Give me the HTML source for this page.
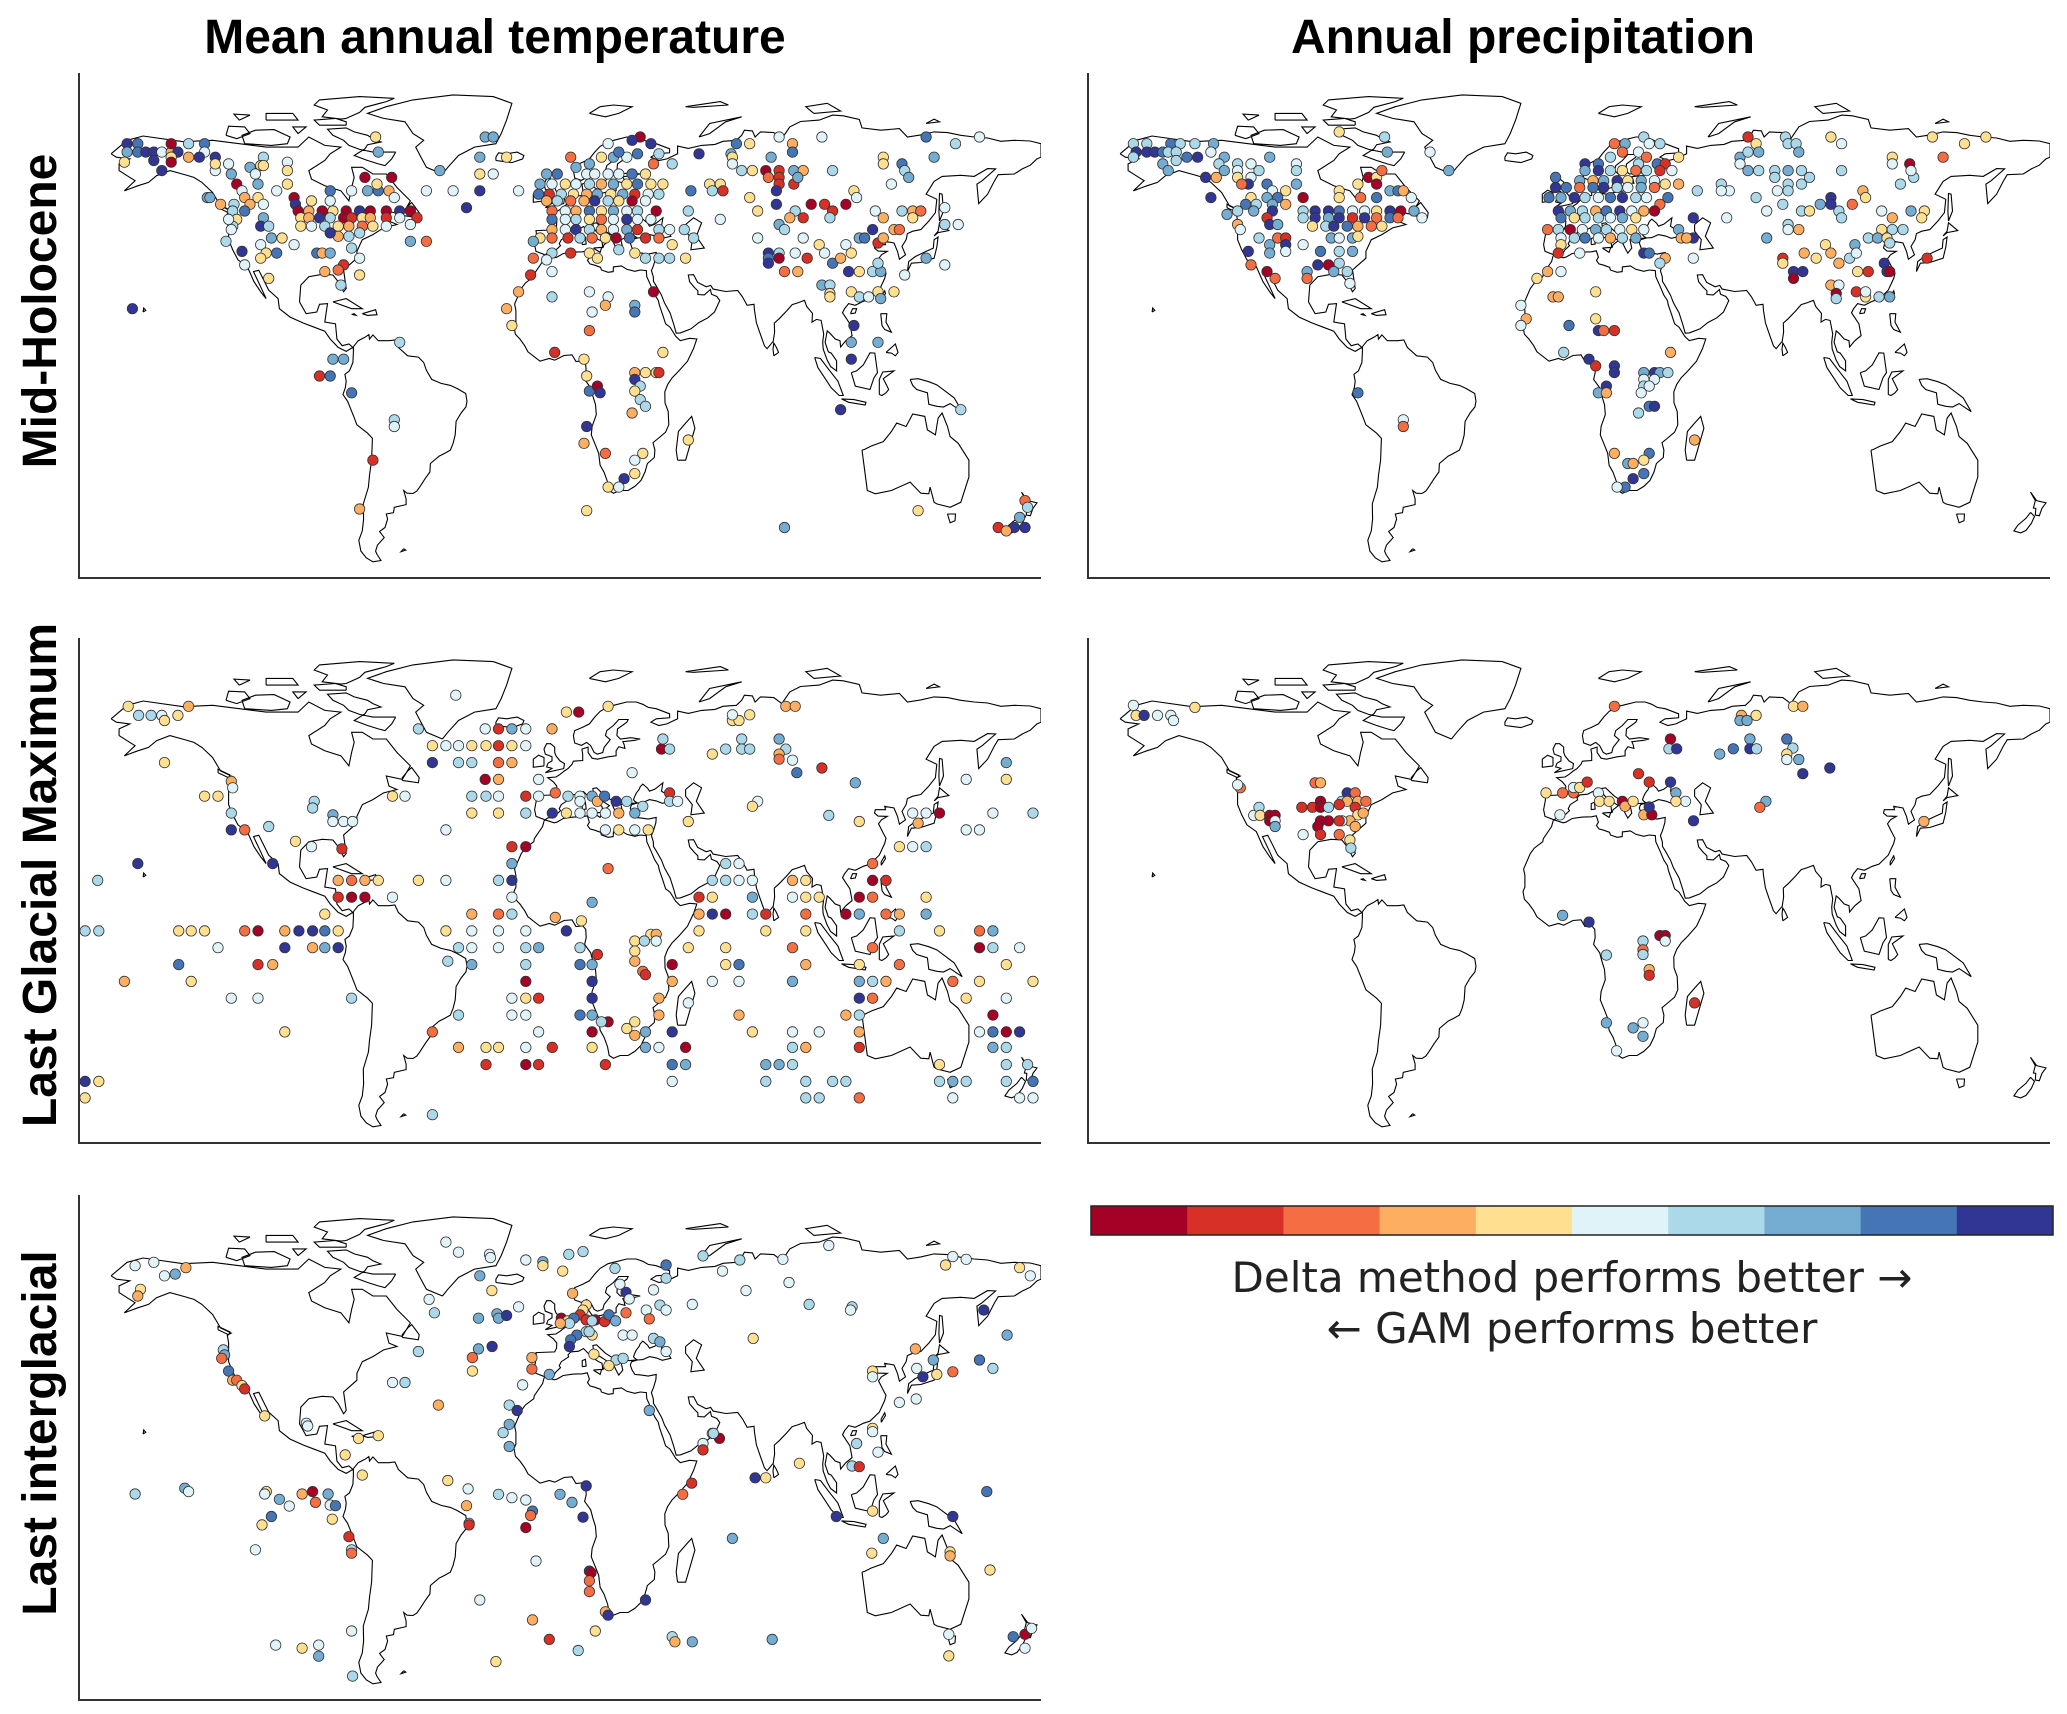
<!DOCTYPE html>
<html><head><meta charset="utf-8"><title>Delta method vs GAM maps</title>
<style>
html,body{margin:0;padding:0;background:#fff;}
svg{display:block;}
.ttl{font-family:"Liberation Sans",Arial,sans-serif;font-weight:bold;font-size:48px;fill:#000;}
.cbt{font-family:"DejaVu Sans","Liberation Sans",sans-serif;font-size:42px;fill:#222;}
</style></head>
<body>
<svg id="fig" width="2067" height="1714" viewBox="0 0 2067 1714" xmlns="http://www.w3.org/2000/svg">
<text class="ttl" x="495" y="53" text-anchor="middle">Mean annual temperature</text>
<text class="ttl" x="1523" y="53" text-anchor="middle">Annual precipitation</text>
<text class="ttl" transform="translate(56,311) rotate(-90)" text-anchor="middle">Mid-Holocene</text>
<text class="ttl" transform="translate(56,875) rotate(-90)" text-anchor="middle">Last Glacial Maximum</text>
<text class="ttl" transform="translate(56,1433) rotate(-90)" text-anchor="middle">Last interglacial</text>
<g id="panels"></g>
<g id="colorbar"></g>
<text class="cbt" x="1572" y="1292" text-anchor="middle">Delta method performs better →</text>
<text class="cbt" x="1572" y="1343" text-anchor="middle">← GAM performs better</text>
</svg>
<script>
const classColors=["#a50026","#d73027","#f46d43","#fdae61","#fee090","#e0f3f8","#abd9e9","#74add1","#4575b4","#313695"];
const colorbarClasses=[0,1,2,3,4,5,6,7,8,9];

const mhTemp=[[-162,69,9],[-158,69,8],[-162,66.5,7],[-158,66.5,8],[-155,66.5,9],[-152,66.5,9],[-149,66.5,5],[-145.5,66.5,3],[-143,66.5,9],[-145.5,69,0],[-139,69,6],[-133,69,8],[-133,66.5,5],[-129,65,9],[-145.5,65,4],[-152,64,9],[-163,63.5,4],[-149,61,9],[-145.5,63.5,0],[-139,65,3],[-135,65,9],[-124,63,5],[-111,65,6],[-102,63.5,5],[-112,62.5,4],[-129,61,5],[-129,63,4],[-116,62,7],[-102,61,4],[-123,60,7],[-114,60,5],[-111,62.5,4],
[-121,57,0],[-113,57,7],[-119,55,5],[-106,55,5],[-102,57,4],[-118,53,3],[-113,53,4],[-132,53,7],[-127,51,3],[-122,51,6],[-116,51,3],[-122.5,49,6],[-118,49,8],[-111,51,5],[-99.5,53,0],[-99,51,9],[-98,49,0],[-94,49,3],[-89,49,0],[-85,49,4],[-80,49,0],[-75,49,9],[-71,49,0],[-65,49,0],[-60,49,9],[-56,49,0],[-73,59,0],[-63,59,0],[-72,55,7],[-78,55,5],[-68,55,8],[-64,55,3],[-68.5,57,4],[-62,53,5],[-86,55,8],[-86,52,5],[-93,52,4],
[-97,47,4],[-94,47,3],[-90,47,9],[-86,47,6],[-81,47,0],[-78,47,1],[-74,47,4],[-71,47,3],[-65,47,1],[-60,47,5],[-53.5,47,1],[-97,44.5,4],[-93,44.5,5],[-88,44.5,6],[-83,44.5,4],[-79,44.5,3],[-74,44.5,2],[-70,44.5,4],[-65,44.5,5],[-83,41.5,3],[-79,41.5,6],[-86,42.5,9],[-75,42.5,6],[-111,47,7],[-112,44.5,9],[-109,44.5,6],[-121,46.5,4],[-122.5,44.5,6],[-108,41,7],[-104,41,4],[-99.5,39,5],[-112,39,5],[-106,36.5,8],[-110,36.5,4],[-119,37,9],[-112,35,4],[-91,36.5,8],[-89,36.5,3],[-86,36.5,7],[-78,38,6],[-75,35,5],[-81,33,1],[-83,31.5,2],[-88,31,3],[-75,30,4],[-82,27,6],[-109,29,4],[-118,33,5],[-125,40,6],[-123,43.5,5],[-124,46.5,5],[-131,53,7],[-56,40,7],[-50,40,2],[-56,45,5],
[-28,71,7],[-25,71,7],[-45,61,7],[-30,65,7],[-30,60,4],[-25,60,5],[-20,65,4],[-50,55,5],[-40,55,5],[-30,55,9],[-15.5,55,5],[-35,50,9],[-69,71,4],[-68,66.5,7],
[4,65,2],[6,62,7],[10,60,5],[13,60,5],[18,60,5],[22,60,5],[27,60,8],[32,60,4],[11,63,7],[15.5,65,4],[20,65,7],[25,65,5],[29,66,8],[30,71,0],[27,70,9],[34,69,9],[18,69,5],[22,66.5,8],[37,66,6],[42,63,6],[35,63,2],[-5,60,7],[-1,60,8],[-7.5,57,7],[-3,57,5],[2,57,4],[6,57,5],[11,57,6],[15.5,57,3],[20,57,7],[25,57,4],[29,57,8],[34,57,4],[38.5,57,4],[-8,54,8],[-4,54,1],[0.5,54,6],[5,54,4],[10,54,3],[14,54,7],[19,54,4],[23.5,54,7],[28,54,1],[33,54,5],[37,54,6],[-5,52,3],[-1,52,6],[4,52,2],[9,52,3],[13,52,9],[18,52,6],[22,52,4],[27,52,0],[32,52,5],[36,49,0],[-3,49,2],[2,49,5],[6,49,3],[11,49,8],[15.5,49,4],[20,49,7],[25,49,5],[29,49,6],[-3,46.5,8],[2,46.5,5],[6,46.5,6],[11,46.5,4],[15.5,46.5,2],[20,46.5,5],[25,46.5,9],[29,46.5,5],[34,46.5,5],[41,43.5,5],[-3,43.5,3],[2,43.5,5],[6,43.5,9],[11,43.5,6],[15.5,43.5,3],[20,43.5,5],[25,43.5,7],[29,43.5,1],[37,43.5,6],[-7.5,41,4],[-3,41,2],[3,41,1],[7.5,41,6],[12,41,2],[17,41,4],[21,41,0],[26,41,8],[32,41,1],[37,41,2],[-10,40,7],[42,39,4],[4,36.5,1],[11,36.5,4],[14,35,4],[22,37.5,6],[28,36.5,4],[32,35,6],[37,35,6],[41,35,6],[47,35,4],[48,49,6],[46.5,43.5,6],[50,41,6],[60,46.5,5],[56,57,4],[60,57,4],[61,55,1],[57,55,6],[49,55,8],[52,66,9],
[-3,36.5,6],[-5,34.5,5],[-10,35,2],[-11,30,1],[-3,31,5],[-15.5,25,3],[-20,20,3],[-18,15,4],[-3,23.5,6],[11,25,5],[18,23.5,5],[17,21,3],[12,19,5],[28,21,7],[28,19,8],[35,25,0],[11,13.5,2],[38.5,7,4],[-2,7,1],[9,5,4],[10,0,4],[11,-4.5,8],[14,-3,0],[15,-5,9],[28,1,3],[32,1,4],[36,1,4],[37,1,1],[28,-1,9],[30,-3,6],[28,-4.5,4],[30,-7,6],[32,-9,6],[27,-11,3],[10,-15,9],[9,-20,3],[17,-23,2],[31,-23,4],[28,-25,5],[28,-29,4],[24,-30.5,9],[18,-33,4],[22,-33,5],[48,-19,4],[10,-40,4],
[64,66,7],[66,69,8],[71,69,4],[82,71,5],[87,69,3],[87,66.5,8],[79,65,7],[64.5,65,4],[64.5,63,5],[68,61,6],[72,61,4],[77,61,0],[82,61,1],[87.5,61,7],[91,61,3],[78,59,2],[82,59,1],[82,57,1],[87.5,57,1],[89,59,7],[81,55,9],[71,53,4],[102,61,6],[121,65,4],[121,63,4],[128,63,8],[129,61,6],[130.5,59,7],[140,65,7],[148,69,6],[137,71,8],[157,71,5],[124,57,5],[98,71,5],[74,49,4],[81,51,9],[88,49,6],[94,51,0],[99,51,1],[102,49,1],[107,51,0],[110,55,4],[111,53,5],[118,49,5],[128,49,6],[132,49,3],[135,49,2],[144,50,5],[86,47,3],[91,47,1],[101,47,6],[82,45,7],[84,43.5,6],[121,47,3],[132,47,4],[74,41,5],[91,41,5],[112,41,7],[114,41,8],[117,43.5,9],[119,39.5,1],[121,41,3],[125,43.5,3],[127,43.5,2],[144,45,6],[149,45,5],[107,39,5],[97,39,4],[78,36.5,9],[82,36.5,6],[78,35,8],[78,33.5,9],[82,35,0],[88,36.5,5],[92.5,35,1],[99,36.5,5],[102,33.5,8],[105,35,3],[109,36.5,4],[108,31,9],[112,31,4],[117,31,6],[120,31,7],[119,33.5,6],[129,30,5],[84,31,2],[89,31,3],[98,27,7],[101,27,6],[101,24.5,4],[101,23.5,4],[109,25,4],[112,23.5,6],[115.5,23.5,5],[119,25,4],[125,25,4],[120,23,7],[110,15,9],[109,10,7],[109,5,9],[119,10,7],[105,-10,9],[150,-10,6],[134,-40,4],[84,-45,7],[174,-37,2],[175,-39,6],[172,-42,7],[170,-45,9],[164,-45,1],[174,-45,9],[167,-46,3],[137,35,7],[144,33,5],
[-160,20,9],[-85,5,7],[-81,5,7],[-90,0,1],[-86,0,8],[-78,-5,8],[-62,-13,6],[-62,-15,5],[-70,-25,1],[-75,-39.5,3],[-60,10,6]];

const mhPrecip=[[-163,69,6],[-158,69,6],[-149,69,8],[-145.5,69,6],[-140,69,6],[-133,69,7],[-162,66.5,9],[-158,66.5,9],[-155,66.5,9],[-152,66.5,8],[-150,66.5,6],[-147,66.5,6],[-143,65,8],[-139,65,9],[-134,66.5,5],[-129,65,7],[-163,65,6],[-152,63,7],[-147,64,6],[-131,63,6],[-124,63,6],[-119,63,5],[-112,65,7],[-102,63,5],[-102,61,6],[-129,61,7],[-124,61,5],[-116,61,6],[-132,59,3],[-150,61,7],[-136,59,9],[-86,72.5,4],[-69,71,6],[-68,66.5,7],[-52,66.5,5],[-45,61,7],
[-124,59,4],[-119,59,5],[-120,57,9],[-113,57,8],[-122.5,57,2],[-111,55,5],[-106,55,4],[-102,57,7],[-99.5,53,0],[-119,53,4],[-113,53,7],[-109,53,8],[-134,53,9],[-121,51,8],[-117,51,6],[-111,51,7],[-106,51,3],[-124,49,6],[-118,49,7],[-111,49,9],[-128,48,7],[-75,59,0],[-72,59,4],[-70,61,2],[-79,57,4],[-72,57,0],[-67,55,7],[-64,55,8],[-62,55,3],[-86,55,4],[-86,53,4],[-78,53,2],[-72,53,8],[-59,53,5],[-99.5,49,6],[-95,49,9],[-90,49,9],[-86,49,8],[-81,49,5],[-76.5,49,5],[-72,49,4],[-67,49,9],[-63,49,0],[-58,49,7],[-55,47,5],[-99.5,47,6],[-95,47,9],[-90,47,7],[-86,47,9],[-81,47,1],[-76.5,47,9],[-72,47,2],[-67,47,8],[-64,47,2],[-96,44.5,4],[-91,44.5,6],[-88,44.5,9],[-83,44.5,8],[-79,44.5,3],[-74,44.5,2],[-70,44.5,4],[-113,47,1],[-112,45,9],[-109,45,7],[-124,45,3],[-123,43.5,5],[-116,41,6],[-109,41,2],[-106,41,1],[-106,39,9],[-99.5,39,5],[-112,39,7],[-89,41,7],[-86,41,5],[-81,41,7],[-79,41.5,4],[-93,37,8],[-86,37,6],[-81,37,7],[-106,37,5],[-112,36.5,7],[-120,37,9],[-119,33,2],[-94,33,9],[-90,33,0],[-86,33.5,6],[-88,31,7],[-83,31,6],[-113,31,0],[-110,29,2],[-98,31,7],[-98,29,2],[-82,27.5,5],
[17,69,2],[21,69,7],[28,71,6],[30,69,5],[34,69,6],[6,63,9],[11,63,8],[15.5,65,6],[20,66.5,2],[26,66.5,5],[29,65,2],[33,63,8],[36,63,1],[41,65,4],[26,63,6],[6,61,7],[11,61,9],[15.5,61,6],[20,61,4],[25,61,2],[29,61,6],[34,61,1],[38.5,61,5],[4,58,7],[9,58,3],[13,58,7],[18,58,9],[22,58,4],[27,58,7],[32,58,5],[36,57,4],[41,57,3],[-5,59,8],[-5,56,9],[-1,56,8],[4,56,2],[9,56,8],[13,56,9],[18,56,6],[22,56,5],[27,56,7],[32,56,2],[37,53,8],[-7.5,53,8],[-3,53,7],[2,53,9],[6,53,6],[11,53,5],[15.5,53,8],[20,53,9],[25,53,6],[29,53,5],[34,51,2],[-4,49,9],[0.5,49,7],[5,49,6],[10,49,3],[14,49,8],[19,49,9],[23.5,49,5],[28,49,3],[32,49,0],[-3,47,8],[2,47,4],[6,47,6],[11,47,6],[15.5,47,5],[20,47,7],[25,47,4],[46.5,47,9],[59,47,5],[-8,43.5,2],[-4,43.5,6],[0.5,43.5,0],[5,43.5,5],[10,43.5,7],[14,43.5,6],[19,43.5,5],[23.5,43.5,4],[28,43.5,5],[41,43.5,7],[-3,41,5],[2,41,6],[6,41,8],[11,41,5],[15.5,41,3],[20,41,6],[25,41,7],[42,41,3],[46.5,41,9],[44,41,3],[-3,39,4],[-4,36.5,1],[4,36.5,5],[28,36.5,9],[30,36.5,8],[36,35,3],[34,33.5,6],[46.5,35,5],
[-8,31,3],[-3,31,5],[-12,29,4],[-6,23.5,3],[-4,23.5,3],[10,25,4],[-18,21,5],[-16,17,3],[-18,15,5],[0,15,8],[10,17,4],[11,13.5,9],[13,13.5,2],[17,13.5,1],[38,7,3],[-2,7,6],[7.5,5,9],[10,3,1],[17,3,9],[17,1,9],[28,1,7],[32,1,9],[34,1,7],[37,1,6],[28,-1,5],[32,-1,5],[14,-3,9],[11,-5,7],[14,-5,3],[28,-3,6],[30,-3,5],[27,-5,5],[30,-9,8],[32,-9,9],[26,-11,6],[47,-19,3],[17,-23,3],[30,-23,8],[28,-25,4],[22,-26,7],[24,-26,3],[28,-29,8],[24,-30.5,9],[21,-33,8],[18,-33,5],
[-79,-5,8],[-62,-13,5],[-62,-15,2],
[64,65,7],[64,63,5],[67,71,1],[70,69,4],[67,66.5,6],[71,66.5,7],[81,71,6],[82,69,6],[85,69,6],[86,66.5,7],[98,71,4],[102,69,5],[121,65,4],[121,63,5],[127.5,63,0],[140,65,2],[148,69,4],[136,71,4],[156,71,4],[67,61,7],[71,61,6],[77,61,6],[82,61,7],[87,61,6],[90,59,6],[102,61,6],[77,59,6],[82,57,6],[87,57,6],[78,55,5],[82,55,6],[57,57,6],[60,55,5],[57,55,5],[48,55,6],[129,59,6],[128,61,5],[124,57,6],[70,53,6],[80,51,6],[74,49,5],[87,49,6],[90,49,4],[94,51,7],[98,53,9],[98,51,9],[101,49,6],[106,51,2],[110,55,3],[111,53,4],[102,47,6],[117,49,5],[128,49,7],[133,49,4],[132,47,4],[121,47,3],[82,45,6],[86,43.5,3],[82,43.5,5],[74,41,7],[121,43.5,6],[125,43.5,6],[117,43.5,4],[112,41,6],[115.5,41,7],[119,41,4],[120,39.5,6],[107,39,7],[96,39,4],[88,36.5,3],[92.5,35,4],[98,36.5,3],[101,33.5,3],[105,35,6],[107.5,36.5,5],[80,35,1],[80,33.5,4],[84,31,9],[87.5,31,9],[84,29,0],[108,31,4],[112,31,1],[118,33.5,9],[119,31,9],[120,31,0],[134,35,1],[98,27,3],[101,27,5],[100,24.5,0],[100,23,6],[107.5,25,1],[111,23.5,4],[116,23.5,6],[120,23.5,7],[111,25,5]];

const lgmTemp=[[-161.6,69.7,4],[-139,69.7,3],[2.4,68,4],[7,68,0],[18,69.7,4],[64.5,65.5,4],[67,65.5,4],[71,67.2,4],[84.5,69.7,3],[88,69.7,3],[64.5,67.2,5],
[-157.7,67,6],[-153,67,6],[-149,67,5],[-148,65.5,4],[-143,67,4],
[-39,73,5],[-53,63,6],[-28,63,5],[-23,63,1],[-18,63,7],[-12.8,63,5],[-3,63,3],
[-47.75,58,4],[-42.7,58,5],[-38,58,5],[-33,58,4],[-27.7,58,4],[-23,58,1],[-18,58,4],[-12.8,58,5],[38,57,0],[41,57,6],[38.5,60,6],[57,55.5,4],[62,57,6],[68,60,6],[68,57,6],[71,57,6],[82,60,7],[84.5,57,6],[82,55.5,3],[82,54,2],[87,53.7,5],
[-148,53,4],[-47.75,53,9],[-38,53,6],[-33,53,6],[-23,53,2],[-18,53,3],[88.6,50,8],[98,51.4,1],[167,53,7],
[-28,48,0],[-23,48,3],[-8,48,5],[-123,47.4,3],[-122.5,45.5,5],[110.5,47,7],[152,48,5],[167,48,4],[27,50,5],
[-133,43,4],[-128,43,4],[-62.7,43,4],[-58,43,5],[-33,43,6],[-27.7,43,6],[-23,43,5],[-12.8,43,1],[-8,43,5],[-1.75,44,2],[3,43,6],[7.5,43,5],[12,43,7],[14,41.5,3],[21,41.5,9],[25,41.5,6],[41,44,1],[41,41.5,6],[44,41.5,5],[74,41.5,5],[72,40,4],[7.5,41.5,5],[16.7,43,8],
[-123,38,6],[-33,38,4],[-23,38,4],[-12.8,38,6],[-2.9,38,9],[2.4,38,4],[7.5,38,5],[12,38,5],[17,38,5],[22,38,3],[28,38,7],[31,40,6],[100.6,37.3,6],[112,35.5,4],[132,38,5],[137,38,5],[142,38,0],[162,38,5],[177,38,6],[-92,41.5,6],[-92.6,39.5,6],[-85,37.5,7],[-81,35.5,5],[-77.6,35.5,5],[-85,35.5,5],[48,35.5,4],
[-123,33,9],[-118,33,2],[-109,34,6],[-42.7,33,5],[17,33,5],[22,33,4],[28,33,5],[33,33,4],[134,35,3],[152,33,5],[157,33,5],
[-99,29.6,4],[-93,28,5],[-81.6,27.4,1],[-18,28,1],[-12.8,28,0],[127,28,4],[132,28,5],[137,28,6],
[-158,23,9],[-107.5,23,9],[-18,23,7],[62,23,6],[67,23,5],[117,23,2],[18,21.5,2],
[-173,18,6],[-83,18,3],[-78,18,2],[-73,18,3],[-68,18,4],[-53,18,4],[-42.7,18,5],[-23,18,6],[-18,18,9],[57,18,6],[62,18,6],[67,18,5],[72,18,5],[87,18,3],[92,18,4],[117,18,0],[122,18,1],
[-83,13,1],[-78,13,0],[-73,13,0],[-62.7,13,5],[-18,13,5],[52,13,1],[57,13,4],[72,13,7],[87,13,5],[92,13,4],[97,13,4],[112,13,0],[117,13,2],[137,13,4],[12,11.5,7],
[-88,8,4],[-33,8,3],[-23,8,2],[-18,8,6],[-1.75,7,3],[8,6,4],[52,8,3],[57,8,9],[62,8,0],[72,8,6],[77,8,1],[92,8,2],[107,8,0],[112,8,7],[122,8,2],[127,8,3],[137,8,7],
[-177.7,3,6],[-172.6,3,6],[-142.7,3,4],[-138,3,4],[-133,3,4],[-118,3,2],[-113,3,0],[-103,3,3],[-97.7,3,9],[-92.6,3,9],[-88,3,8],[-83,3,4],[-42.7,3,4],[-33,3,5],[-23,3,5],[-12.8,3,5],[2.4,3,9],[34,2,4],[36,2,3],[52,3,4],[77,3,4],[92,3,4],[127,3,6],[142,3,4],[157,3,2],[162,3,7],
[-128,-2,5],[-103,-2,9],[-92.6,-2,3],[-88,-2,7],[-83,-2,9],[-38,-2,6],[-33,-2,5],[-23,-2,5],[-12.8,-2,6],[-8,-2,7],[7.5,-2,6],[28,0,4],[31.6,0,6],[36,0,5],[48,-2,4],[62,-2,4],[87,-2,2],[117,-2,2],[157,-2,0],[162,-2,6],[172,-2,5],[28,-3,4],
[-142.7,-7,8],[-113,-7,1],[-107.5,-7,3],[-42,-6,6],[-33,-7,7],[-12.8,-7,6],[7.5,-7,8],[12,-7,7],[14,-4,1],[28,-6,3],[42,-7,0],[62,-7,4],[67,-7,8],[92,-7,3],[112,-7,4],[127,-7,2],[167,-7,4],[31,-9,2],[32,-10,1],
[-163,-12,3],[-138,-12,4],[-12.8,-12,0],[12,-12,9],[42,-12,3],[57,-12,5],[67,-12,5],[87,-12,7],[112,-12,7],[117,-12,6],[122,-12,3],[147,-12,2],[157,-12,4],[177,-12,4],
[-123,-17,5],[-113,-17,5],[-78,-17,6],[-18,-17,5],[-12.8,-17,4],[-8,-17,1],[12,-17,9],[37,-17,3],[48,-18.4,5],[112,-17,9],[117,-17,2],[152,-17,4],[167,-17,5],
[-38,-22,6],[-18,-22,5],[-12.8,-22,5],[7.5,-22,8],[12,-22,7],[18,-24,0],[15.5,-24,6],[28,-24,4],[37,-22,3],[67,-22,3],[107,-22,3],[112,-22,6],[162,-22,0],
[-103,-27,4],[-47.75,-27,2],[-8,-27,5],[12,-27,0],[25,-26,4],[32,-27,7],[28,-28,3],[42,-27,9],[72,-27,4],[87,-27,5],[97,-27,5],[112,-27,3],[157,-27,5],[162,-27,8],[167,-27,0],[172,-27,9],
[-38,-31.6,3],[-27.7,-31.6,4],[-23,-31.6,4],[-12.8,-31.6,5],[-2.9,-31.6,1],[12,-31.6,4],[32,-31.6,7],[37,-31.6,5],[47,-31.6,0],[87,-31.6,6],[92,-31.6,3],[112,-31.6,1],[162,-31.6,7],[167,-31.6,6],
[-27.7,-36.7,1],[-12.8,-36.7,0],[-8,-36.7,1],[17,-36.7,1],[42,-36.7,8],[47,-36.7,7],[77,-36.7,7],[82,-36.7,7],[87,-36.7,6],[142,-36.7,4],[167,-36.7,6],[175,-36.7,6],
[-177.7,-41.7,9],[-172.6,-41.7,4],[42,-41.7,5],[77,-41.7,6],[92,-41.7,6],[102,-41.7,6],[107,-41.7,6],[142,-41.7,6],[147,-41.7,7],[152,-41.7,6],[167,-41.7,6],[177,-41.7,8],
[-177.7,-46.6,4],[92,-46.6,6],[97,-46.6,6],[112,-46.6,2],[147,-46.6,5],[172,-46.6,5],[177,-46.6,5],[-47.75,-51.6,6]];

const lgmPrecip=[[-163,70,5],[-162,67,4],[-159,67,9],[-154,67,5],[-149,67,5],[-148,65.5,5],[-140,69.4,4],[-123,45.5,2],[-124,46.4,5],
[-95,47,2],[-93,47,3],[-83,44,9],[-80,44,2],[-85,41.5,6],[-83,41.5,3],[-79,41.5,3],[-76,41.5,2],[-100,39.7,1],[-96,39.7,1],[-93,41.5,0],[-93,39.7,0],[-90,39.7,6],[-86,40.5,1],[-80,39.7,1],[-79,37.5,4],[-77,38,3],[-82,35.7,3],[-85,35.7,5],[-93,35.7,0],[-90,35.7,0],[-86,35.7,1],[-80,34,3],[-94,34,0],[-99.5,31.6,5],[-93,31.6,1],[-86,31.6,2],[-82,30,4],[-81.6,27.6,6],[-118,37.3,5],[-116,39.7,6],[-115.6,37.3,4],[-112,37.3,0],[-110,37.3,0],[-112,35.7,0],[-110,35.7,5],[-110,34,7],
[17,69.7,2],[-8.6,44,4],[-2.4,44,2],[1.7,44,2],[1.7,45.6,5],[4,45.6,4],[6.8,47.2,1],[11,44,5],[11.4,41.5,4],[15,41.5,4],[20,41.5,0],[21,40,3],[24,41.5,4],[28,37.5,3],[31,37.5,0],[30,39.8,9],[38,47.2,9],[30,47.2,1],[26,49.7,1],[40,44,7],[43.6,41.5,5],[40,41.5,4],[46.6,35.7,9],[-3.4,37.5,5],
[38,60,0],[37.4,57.1,6],[40.3,57.1,9],[64.5,67,3],[64,65.5,7],[66.6,65.5,7],[70,67,4],[84,69.7,4],[87.5,69.7,3],[56.4,55.5,7],[61.5,57.1,8],[67.7,60,7],[67.7,57.1,9],[70.2,57.1,6],[81.5,60,8],[83.8,57.3,6],[81.5,55.5,4],[81.5,53.9,5],[86,53.9,7],[87.5,49.7,9],[97.6,51.4,9],[73.7,41.5,7],[71.4,39.7,2],[132.8,35.5,3],
[-2.4,7.6,7],[7.5,5.6,9],[34,1.6,0],[36,1.6,0],[27.7,0,6],[36,0,5],[27.7,-2.6,2],[27.7,-4,6],[30,-8.5,3],[30,-10.2,1],[14,-4.2,6],[47,-18.4,1],[14,-24.3,7],[27.7,-24.3,5],[24,-25.8,7],[27.7,-28.3,7],[17.8,-32.6,5]];

const ligTemp=[[-159,69,5],[-152,70,5],[-148,66,5],[-144,66.5,7],[-140,68.4,3],[-157,62,4],[-158,60,3],[-126,44,6],[-125.5,42.5,7],[-126.6,41.5,2],[-124,37.7,8],[-122.5,35,3],[-121,35,2],[-119,33.4,4],[-118,32.4,1],[-110.5,24.4,4],
[-42.7,76,5],[-38,73,5],[-26.4,72.4,5],[-26,71.4,5],[-12.8,70.7,5],[-6.4,70.2,7],[-6.4,69,4],[1,67.4,4],[3.3,72.4,6],[8.6,73.2,6],[-30,66,7],[-25.5,61.6,4],[-49,59,5],[-47,55,6],[-15.5,56.8,5],[-30.5,53.4,7],[-23.6,54.7,7],[-23,53.4,7],[-20,54.2,9],[4.7,60.8,3],[9.8,57.3,4],[8.6,55.8,4],[7.5,54.4,1],[0.5,53.4,0],[2.9,52.6,4],[5.2,53.4,8],[9.8,52.9,1],[13.2,52.9,0],[16.7,52.4,1],[18.3,54.4,8],[20.8,52.6,7],[12,52.6,6],[20.6,68.2,6],[24.7,61.1,9],[22.4,63.5,5],[25.9,59.1,5],[35,61.8,5],[37.4,57.3,6],[39.7,55.8,5],[32.3,55.8,5],[24.7,55,2],[33.4,53.2,2],[3.5,51.9,6],[0.1,51.9,3],[9.8,49.4,6],[12,48.4,4],[10.9,49.4,6],[6.3,48.4,8],[4,47,8],[3.5,45,9],[23.6,48.4,5],[27,48.4,5],[35,47.4,6],[37.4,46.4,7],[39.7,43.5,5],[12.7,42.7,4],[21,41,6],[23.6,41.5,6],[18.3,39.3,4],[-30.5,44.3,7],[-25.4,45,9],[-32.8,41.7,2],[-32.8,37.7,4],[-10.5,41.7,3],[-10.5,38.3,2],[-4,36.7,7],[39.7,69.2,8],[39.7,65.3,6],[53.5,71.9,6],[60.8,67.4,5],[67.3,70.7,6],[83.4,70.9,5],[85.7,64,5],[100.6,75,5],[69.6,61.6,5],[49.5,57.5,5],[93.2,57.5,6],[109.3,56.8,6],[108.7,55.8,5],[72.3,47.4,4],[147,71.7,5],[144.3,69.2,4],[152,70.9,5],[172,68.4,4],[176,66,5],[158.6,55.8,9],[167.3,48.4,7],[133,44.3,3],[139.7,41,7],[157,41,8],[162,38.5,6],[133.5,38.5,5],[141,36.7,4],[147,37.5,2],[135.8,36,9],[117,37.7,4],[117,36,5],[127,28.4,5],[133.3,29.4,5],
[-53,43.5,6],[-62.7,34.3,5],[-58,34.3,6],[-45.5,27.6,3],[-14,33.6,5],[-19,27.6,6],[-16,26,9],[-19,21.9,7],[-21.3,19.4,6],[-19,15.3,7],[33.4,26,7],[57,19.2,4],[59.7,17.7,0],[53.5,16.2,5],[53.5,14.3,1],[49.3,4.4,1],[45.9,1.1,2],[57.4,19.2,6],[117,20.7,4],[117,19.7,5],[111,16.2,6],[119,13.6,5],[109.3,9.5,6],[112,9.3,1],[89.6,10.3,4],[73,6,9],[77,6,4],[159.7,1.9,8],[103.4,-5.5,9],[117,-3.9,4],[147,-5.5,9],[64.5,-12,7],[121,-12,7],[116.7,-16.4,4],[146,-16,4],[146,-17.2,3],[160.9,-21.4,4],
[-94.9,22.2,5],[-94.4,21.4,5],[-75.4,17.7,4],[-68,18.5,4],[-80.4,12.8,4],[-74,6.8,4],[-42,5.2,4],[-34.4,2.7,5],[-23,1.1,6],[-18,0.1,5],[-12.8,-0.6,5],[0,1.1,7],[9.8,3.6,9],[4.5,-1.3,7],[-10.3,-3.9,8],[-11,-5.2,2],[-12.8,-8.8,0],[8.6,-5.7,9],[-35,-2.3,3],[-34,-7.5,6],[-34,-8,1],[-159,1.2,6],[-140.4,2.9,7],[-139,1.9,5],[-109.9,1.9,4],[-110.5,1.2,5],[-105,-0.4,7],[-101.3,-2.4,5],[-96.5,1.2,3],[-92.6,1.9,0],[-91.5,-1.3,2],[-86.8,1.2,7],[-86,-2.1,5],[-84,-2.3,8],[-108,-5.5,8],[-111.5,-8,4],[-85.2,-6.3,4],[-79,-11.5,1],[-78,-15.4,6],[-78,-16.4,2],[-114,-15.4,5],
[-9,-18.7,5],[11,-21.7,9],[11.6,-22.2,0],[11,-24.6,2],[11,-27.8,2],[32,-30.3,9],[17,-33.8,3],[18,-34.8,9],[-30,-30.3,5],[-10.3,-36.2,3],[-4,-42,1],[13.2,-39.5,4],[6.8,-45.3,6],[-24,-48.6,4],[42,-41.2,6],[43,-42.7,3],[49.5,-42.7,7],[79.4,-42,7],[145.5,-40.5,5],[145.5,-46.9,4],[169.6,-41.2,8],[174,-40.5,0],[176.5,-38.7,5],[174,-44.6,5],[-78,-39.5,5],[-106.4,-43.7,5],[-96.5,-44.6,4],[-90.3,-43.7,5],[-90.3,-47,7],[-77.6,-52.9,6]];

/* coastlines (lon, lat) */
const coasts=[
[[-168,66],[-162,70],[-156,71.3],[-141,69.6],[-130,70],[-120,69],[-110,68],[-98,68],[-94,71],[-88,68.5],[-82,68],[-86,66],[-88,64],[-94,61],[-93,58.5],[-88,56.5],[-82,55],[-79,52],[-78,56],[-77,59],[-78,62],[-74,62],[-70,60],[-65,60],[-61,56],[-56,52],[-59,48],[-65,49],[-64,46],[-61,45],[-66,44],[-70,42],[-74,40.5],[-76,37],[-76,35],[-81,31.5],[-80,26],[-81,25],[-83,28],[-85,30],[-89,30.2],[-94,29.5],[-97,27],[-97.5,22],[-95,18.5],[-91,19],[-90,21.3],[-87,21.5],[-88,16],[-84,15.5],[-83.5,11],[-81.5,9],[-79,9.5],[-77.5,8.5],[-80,7.3],[-83,8.5],[-86,11],[-88,13.3],[-92,14.5],[-96,15.7],[-101,17.5],[-105,20],[-105.5,23],[-109,25.5],[-112.7,31.4],[-114.7,31],[-112,26.5],[-110,23],[-112,25],[-114.5,28],[-117,32.5],[-120.5,34.5],[-122.5,37.5],[-124,40.5],[-124,46],[-124.5,48.4],[-123,49],[-127,50.5],[-130,54.5],[-134,57.5],[-137,59],[-140,59.7],[-146,61],[-151,59.5],[-154,57.5],[-158,56.5],[-163,55],[-159,58],[-162,59.5],[-165,61],[-165,63],[-161,64.5],[-166,65],[-168,66]],
[[-44,60],[-50,62],[-52,65],[-54,68],[-51,70],[-55,72],[-58,75.5],[-66,76.5],[-72,78],[-65,80],[-55,82],[-40,83.5],[-25,83],[-18,81],[-20,76],[-22,72],[-24,69],[-32,68],[-38,65.5],[-42,62],[-44,60]],
[[-61.5,66.5],[-63,64.5],[-65.5,62.5],[-68,63],[-72,64],[-77,65.5],[-73,67.5],[-72,68.7],[-67,69.5],[-70,70.5],[-72,71.5],[-77,72.5],[-80,73.7],[-87,73.3],[-85,71.5],[-81,70],[-79,68.5],[-75,67.3],[-70,66.5],[-61.5,66.5]],
[[-80,76.5],[-75,78.3],[-73,79.8],[-65,81.5],[-62,82.5],[-75,83],[-90,82],[-92,80.5],[-87,79],[-89,77],[-82,76.3],[-80,76.5]],
[[-80,74.5],[-90,74.5],[-92,76],[-84,76.5],[-80,75.5],[-80,74.5]],
[[-118,69],[-108,68.5],[-102,69],[-101,71],[-107,73.2],[-114,73],[-119,71.5],[-118,69]],
[[-125,71.5],[-121,70.5],[-116,72],[-118,74],[-124,74.2],[-125,71.5]],
[[-110,76],[-98,76],[-100,78],[-110,78],[-110,76]],[[-120,76],[-116,77.5],[-122,77.8],[-120,76]],
[[-98,72],[-95,74],[-100,74],[-98,72]],
[[-59,47.7],[-53,47],[-52.7,48.5],[-55.5,51.5],[-57,50.5],[-59,48.5],[-59,47.7]],
[[-128,50],[-124,48.5],[-123.5,49.3],[-128,51],[-128,50]],
[[-85,22],[-80,23],[-74,20],[-78,20],[-85,22]],[[-74,18.5],[-69,19.7],[-68.5,18.2],[-72,18],[-74,18.5]],[[-78,18.3],[-76.3,18],[-77,18.5],[-78,18.3]],
[[-156,19],[-155,19.5],[-155.8,20.2],[-156,19]],
[[-77.3,8.7],[-75.5,10.5],[-73,11.5],[-71.5,12.3],[-71.3,11],[-70,12.2],[-68,10.5],[-64,10.5],[-61.8,10.7],[-60.5,8.5],[-57,6],[-53,5.6],[-51,4],[-50,1.7],[-48,-1],[-44.5,-2.2],[-41,-2.8],[-38.5,-3.7],[-35.3,-5.2],[-34.8,-7.5],[-35.2,-9.2],[-37,-11],[-38.9,-13.5],[-39.2,-17.5],[-40,-20],[-41,-22],[-43.2,-23],[-45.2,-23.8],[-48.5,-26],[-48.7,-28.5],[-50.5,-30.5],[-52.5,-33],[-53.6,-34.2],[-55,-34.9],[-57.2,-34.8],[-58.5,-34],[-57.6,-36.5],[-57.6,-38.2],[-62,-39],[-62.3,-40.6],[-65,-41],[-64.5,-42.5],[-65.5,-45],[-67.5,-46.2],[-65.8,-48],[-68.3,-50.2],[-69,-52],[-68.5,-53],[-67,-54.8],[-70,-55.2],[-72.5,-54],[-74.5,-52],[-75.3,-48.8],[-74,-46],[-73.5,-42.5],[-73.6,-38],[-71.7,-33],[-71.3,-29.5],[-70.5,-25],[-70.2,-18.5],[-72,-17],[-76,-14.5],[-77.2,-12],[-79.5,-7.5],[-81.2,-5.5],[-80.3,-3.4],[-80,-1.5],[-80.5,0.5],[-78.8,1.5],[-77.5,4],[-77.3,7],[-77.3,8.7]],
[[-58.5,-51.3],[-57.7,-51.7],[-59.5,-52.2],[-58.5,-51.3]],
[[-24,64],[-22,63.8],[-18,63.4],[-14,64.5],[-13.5,65.5],[-16,66.5],[-20,66],[-23,66.3],[-24,65],[-24,64]],
[[-5.5,50],[1.4,51.2],[1.7,52.7],[0,53.5],[-1.5,55],[-2,56],[-2,57.6],[-3.5,58.6],[-5,58.6],[-6,57],[-5.5,55.5],[-3,54.7],[-3,53.5],[-4.5,52.8],[-5,51.7],[-3,51.3],[-5.5,50]],
[[-6,52],[-10,51.6],[-10,54],[-8,55.2],[-6,54.5],[-6,52]],
[[-5.6,36],[-9,37],[-9.5,39],[-8.8,42],[-9,43.2],[-2,43.4],[-1.3,44.5],[-1.2,46],[-2.5,47.3],[-4.6,48.5],[-1.5,48.7],[0,49.5],[1.6,50.5],[3,51.2],[4.5,52.5],[5,53.4],[8.5,53.6],[8.5,55.5],[8.2,57],[10.5,57.6],[10.5,56],[12,54.3],[14,54],[18,54.7],[21,55],[21,56.5],[22,57.7],[24.3,57.2],[24,58.4],[23.5,59.2],[28,59.6],[30,60],[26.5,60.4],[22.6,60],[21.3,61],[21.5,63],[25,65],[25.5,65.8],[22,65.8],[20,64],[17.5,62.5],[17,61],[18.8,59.8],[16.5,57.5],[16,56],[14,55.5],[12.8,56],[11.5,58],[10,59],[8,58.1],[5.5,58.8],[5,61],[5.5,62.5],[8.5,63.5],[11,64.5],[13,66.5],[15,68.2],[18,69.6],[21,70.2],[25,71],[28.5,71],[31,70.3],[33,69.4],[36,69],[41,67.5],[41,66.3],[36,66],[34,65],[37,64],[40,64.5],[44,66],[44,68.3],[48,67.6],[53,68.5],[58,68.8],[61,69.7],[66,70],[68,71.5],[69,73],[72,72.8],[73,71],[75,72.5],[80,72.3],[83,70.5],[86,74],[90,75.6],[97,76],[102,77.5],[106,77.3],[112,76.2],[113,73.7],[120,73],[127,73.5],[130,71],[135,71.6],[140,72.5],[145,72.3],[150,71.5],[155,71],[160,70.7],[165,69.7],[170,70],[176,69.8],[180,69],[180,65],[178.5,64.5],[176,62.6],[173,61.5],[170,60],[164,59.8],[162.5,57.8],[160,54],[156.7,51.2],[156,57],[158,58],[163,61.5],[160,61.6],[155,59.3],[150,59.6],[143,59.3],[140,57.8],[137,54],[141,52.5],[140.5,48.5],[138,46],[135,43.5],[132,43],[130,42.3],[129.5,40.5],[128,38.5],[129.3,36],[127,34.7],[126.3,37],[125,39.5],[121.5,40],[121.8,39],[118,39],[117.7,38],[119,37.1],[122.5,37],[120.3,36],[119.2,34.8],[121,32],[122,30.5],[121.5,29],[119.5,25.5],[116,22.8],[113.5,22.2],[110.5,21],[108,21.5],[106.5,20],[105.7,18.8],[108.5,15.5],[109.3,12],[107,10.5],[105,8.6],[104.8,10.5],[103,11],[101,12.7],[100,13.4],[99.2,10],[100.4,7.2],[101.5,6.8],[103.5,4.5],[103.5,1.5],[101.3,2.8],[100,4.7],[98.5,8],[98.3,10],[98.7,12.5],[97.7,16.5],[96,16.8],[94.3,16],[94.5,18.6],[92.3,20.7],[91.5,22.5],[89,21.7],[86.9,21.2],[84.8,19.3],[82,17],[80.2,15.7],[80.3,13],[79.8,10.3],[77.5,8.1],[76.5,9],[74.8,12.8],[73.5,15.8],[72.8,19.5],[72.6,21.3],[70,21],[68.3,23.5],[66.5,25.4],[62,25.1],[57.3,25.8],[56.4,26.9],[54.7,26.5],[51.5,27.8],[50,30.1],[48,30],[48.5,28],[50.2,26.4],[51.6,25.3],[51.6,24.2],[54,24.1],[56.3,25.7],[56.7,24.3],[58.7,23.6],[59.8,22.4],[57.8,19],[55.3,17.3],[52,15.9],[49,14],[45,12.8],[43.5,12.7],[42.6,15.3],[41.2,18.7],[39.1,21.7],[38,24],[36,26.8],[35,28.1],[34.9,29.5],[34.2,31.3],[35,32.8],[35.9,35.2],[36,36.7],[33,36.2],[30.5,36.5],[28,36.7],[27,38],[26.3,39.5],[26.8,40.5],[29,41],[31,41.1],[33.5,42],[36,41.6],[38.3,40.9],[41.5,41.5],[40,43.5],[38,44.5],[38.5,47],[35.5,45.1],[33.5,44.5],[32.8,45.4],[31,46.6],[30,45.8],[29.6,45],[28.6,44],[28,43],[27.5,42],[28,41.5],[29,41],[26,40.8],[24,40.9],[22.8,40.5],[23.5,38],[22,36.5],[21,38],[19.5,40.5],[19.4,41.8],[17,43],[15,44.5],[13.7,45.5],[12.3,45.3],[12.5,44],[14,42.5],[16,41.5],[18.5,40.2],[16.5,39],[16,38],[15.7,40],[14.5,40.5],[12.5,41.5],[10.5,43],[8.8,44.4],[7,43.6],[4,43.4],[3,42.5],[3.2,41.9],[0.5,40.5],[-0.3,39.3],[0.2,38.7],[-1.5,37.5],[-2.1,36.7],[-4.5,36.6],[-5.6,36]],
[[47,45],[50,47],[53,45.5],[51,41.5],[54,38],[49,37.5],[49.5,40.5],[47,43],[47,45]],
[[12.5,38],[15.6,38.2],[15,36.7],[12.5,38]],[[8.3,39],[9.8,39.2],[9.5,41.2],[8.3,40.8],[8.3,39]],
[[-5.9,35.8],[-6.5,34],[-9.6,30.4],[-9.8,29.5],[-13,27.6],[-14.5,26],[-17,21.4],[-16.5,19.5],[-16.5,16],[-17.2,14.7],[-16.7,12.4],[-15,11],[-13.2,9],[-12,7.2],[-7.5,4.4],[-4,5.2],[-2,4.7],[1.5,6.1],[4.5,6.3],[6,4.3],[8.5,4.5],[9.6,3.5],[9.8,1],[9.2,-1],[11.5,-3.5],[12.3,-6],[13.3,-8.5],[13.6,-11.5],[12,-15],[11.7,-17.5],[13.5,-21],[14.5,-23],[15,-26.5],[16.5,-28.6],[17.8,-31.5],[18.4,-34],[20,-34.8],[22.5,-34],[25.5,-34],[28,-32.8],[30.3,-31],[31.8,-28.5],[32.7,-26],[35.3,-24.2],[35.5,-22],[34.8,-19.8],[36.5,-18.7],[39.5,-16.7],[40.7,-14.5],[40.5,-10.5],[39.3,-8],[39.2,-4.7],[40.3,-2.5],[42,-0.5],[44.5,1.5],[47.7,4.4],[50,8.2],[51.2,11],[48.5,11.2],[45,10.5],[43.3,11.8],[41.2,14.5],[39.5,15.5],[38.5,18],[37.2,21],[36.8,22.5],[35.5,24],[34,26.8],[32.5,29.5],[32.3,31.3],[30,31.5],[28,31.1],[25,31.7],[23,32.7],[20,32.4],[19.9,31],[18,30.8],[15.5,31.5],[15.2,32.3],[13,32.9],[11.2,33.3],[10.3,34.3],[11,35.3],[10.2,37.2],[8.4,36.9],[5,36.8],[1.2,36.4],[-1.2,35.3],[-2.2,35.1],[-5.3,35.9],[-5.9,35.8]],
[[44,-25],[47,-25],[50.5,-15.5],[49.3,-12],[47,-14],[44.3,-16.5],[43.5,-22],[44,-25]],
[[113,-22],[115,-34],[118,-35],[124,-34],[131,-31.5],[135,-34.8],[138,-35],[138.5,-33],[140,-37.5],[141,-38],[146,-39],[150,-37.5],[153,-30],[153,-25],[149,-20],[146,-18],[145,-15],[143,-11],[141.5,-12.5],[140.5,-17.5],[137.5,-16],[136.5,-12],[132,-11.3],[129.5,-15],[126,-14],[124,-16.5],[121,-19.5],[116.5,-20.8],[114,-21.8],[113,-22]],
[[145,-41],[148,-41],[147.8,-43],[146,-43.6],[145,-41]],
[[172.7,-34.5],[175,-37],[178.5,-37.7],[177,-39.3],[176,-41.5],[174.5,-41.3],[174.7,-39.3],[173.8,-39.2],[174.5,-37],[172.7,-34.5]],
[[172.7,-40.5],[174.2,-41.7],[173,-43.8],[171,-45.9],[169,-46.6],[166.5,-46],[168,-44.3],[171,-42.3],[172.7,-40.5]],
[[130,31],[131.5,33.5],[135,33.7],[140,35],[141,38.3],[141.5,41.3],[140,40.5],[139.7,38],[137,37],[133,35.5],[130.5,34],[130,31]],[[140,41.6],[141.5,42.6],[145.5,43.2],[142,45.5],[141.5,43],[140,41.6]],
[[142,46],[143.5,49],[143,54],[142,54.2],[141.8,49],[142,46]],
[[120.2,22.5],[121.8,24.5],[121.5,25.3],[120.2,23.5],[120.2,22.5]],[[108.7,18.5],[110.5,18.7],[111,20],[109.5,20],[108.7,18.5]],
[[80,6],[81.8,7],[81,8.5],[80,9.8],[79.7,8],[80,6]],
[[109,1],[110.5,-3],[116,-4],[117.5,-0.5],[118.8,1],[117.8,6.8],[116,6.9],[113.5,3.3],[111,1.5],[109,1]],
[[95.3,5.5],[97.5,5.2],[100.5,2],[104,-1.5],[106,-5.8],[104.5,-5.8],[101.5,-3.5],[99,-0.5],[96.5,2.5],[95.3,5.5]],
[[105.3,-6.8],[110,-7],[114.5,-7.8],[114.2,-8.6],[108,-7.8],[105.3,-6.8]],
[[119.5,-5.5],[119.5,-1],[120.8,1.2],[125,1.5],[121,-0.8],[123,-4],[122,-5],[120.5,-5.8],[119.5,-5.5]],
[[131,-1],[134,-0.8],[138,-1.7],[141,-2.6],[145,-5],[147.5,-6.5],[150.5,-10.6],[146,-8.2],[143.5,-9.2],[141,-9],[138,-8.4],[137.5,-5],[133.5,-4],[132,-2.8],[131,-1]],
[[120,18.5],[122.3,18.5],[122,16],[124,13],[121.5,13.8],[120.5,15],[120,18.5]],[[122,7],[125.5,9.5],[126.5,7],[125.5,6],[124,6.8],[122,7]],
[[11,78],[15,80],[20,80.5],[27,80],[22,78],[17,77],[11,78]],
[[52,71],[56,75],[68,77],[62,75.5],[56,72],[52,71]],
[[95,78],[105,78.7],[100,81],[92,80],[95,78]],[[47,80],[60,81.5],[63,80.5],[50,79.8],[47,80]],
[[137,75],[142,75.5],[140,76.3],[137,75]]
];

const X0=[79,1088], Y0=[73,638,1195], W=962, H=505;
const LAT_TOP=90, LAT_BOT=-60;
function xScale(lon,col){return X0[col]+(lon+180)/360*W;}
function yScale(lat,row){return Y0[row]+(LAT_TOP-lat)/(LAT_TOP-LAT_BOT)*H;}

const NS="http://www.w3.org/2000/svg";
const panelsG=document.getElementById('panels');
const panelDefs=[
 {name:'map-mid-holocene-temperature',col:0,row:0,pts:mhTemp},
 {name:'map-mid-holocene-precipitation',col:1,row:0,pts:mhPrecip},
 {name:'map-lgm-temperature',col:0,row:1,pts:lgmTemp},
 {name:'map-lgm-precipitation',col:1,row:1,pts:lgmPrecip},
 {name:'map-last-interglacial-temperature',col:0,row:2,pts:ligTemp}
];
panelDefs.forEach(p=>{
  const g=document.createElementNS(NS,'g');
  
  
  const clipId='clip'+p.col+p.row;
  const cp=document.createElementNS(NS,'clipPath');cp.setAttribute('id',clipId);
  const cr=document.createElementNS(NS,'rect');
  cr.setAttribute('x',X0[p.col]);cr.setAttribute('y',Y0[p.row]);cr.setAttribute('width',W);cr.setAttribute('height',H);
  cp.appendChild(cr);g.appendChild(cp);
  let d='';
  coasts.forEach(poly=>{
    poly.forEach((pt,i)=>{d+=(i?'L':'M')+xScale(pt[0],p.col).toFixed(1)+','+yScale(pt[1],p.row).toFixed(1);});
  });
  const path=document.createElementNS(NS,'path');
  path.setAttribute('d',d);path.setAttribute('fill','none');path.setAttribute('stroke','#000');path.setAttribute('stroke-width','1.1');
  path.setAttribute('clip-path','url(#'+clipId+')');
  
  
  g.appendChild(path);
  const dg=document.createElementNS(NS,'g');
  dg.setAttribute('clip-path','url(#'+clipId+')');
  
  
  p.pts.forEach(pt=>{
    const c=document.createElementNS(NS,'circle');
    c.setAttribute('cx',xScale(pt[0],p.col).toFixed(1));
    c.setAttribute('cy',yScale(pt[1],p.row).toFixed(1));
    c.setAttribute('r','5.2');
    c.setAttribute('fill',classColors[pt[2]]);
    c.setAttribute('stroke','#333');c.setAttribute('stroke-width','0.8');
    
    
    dg.appendChild(c);
  });
  g.appendChild(dg);
  const sp=document.createElementNS(NS,'path');
  const x0=X0[p.col], y0=Y0[p.row];
  sp.setAttribute('d','M'+x0+','+y0+'L'+x0+','+(y0+H)+'L'+(x0+W)+','+(y0+H));
  sp.setAttribute('fill','none');sp.setAttribute('stroke','#333');sp.setAttribute('stroke-width','2');
  
  
  g.appendChild(sp);
  panelsG.appendChild(g);
});

const cb=document.getElementById('colorbar');
const CBX=1091, CBW=962, CBY=1206, CBH=29;
colorbarClasses.forEach((k,i)=>{
  const r=document.createElementNS(NS,'rect');
  r.setAttribute('x',(CBX+i*CBW/colorbarClasses.length).toFixed(1));
  r.setAttribute('y',CBY);
  r.setAttribute('width',(CBW/colorbarClasses.length+0.5).toFixed(1));
  r.setAttribute('height',CBH);
  r.setAttribute('fill',classColors[k]);
  
  
  cb.appendChild(r);
});
const ob=document.createElementNS(NS,'rect');
ob.setAttribute('x',CBX);ob.setAttribute('y',CBY);ob.setAttribute('width',CBW);ob.setAttribute('height',CBH);
ob.setAttribute('fill','none');ob.setAttribute('stroke','#222');ob.setAttribute('stroke-width','1.5');


cb.appendChild(ob);
</script>
</body></html>
